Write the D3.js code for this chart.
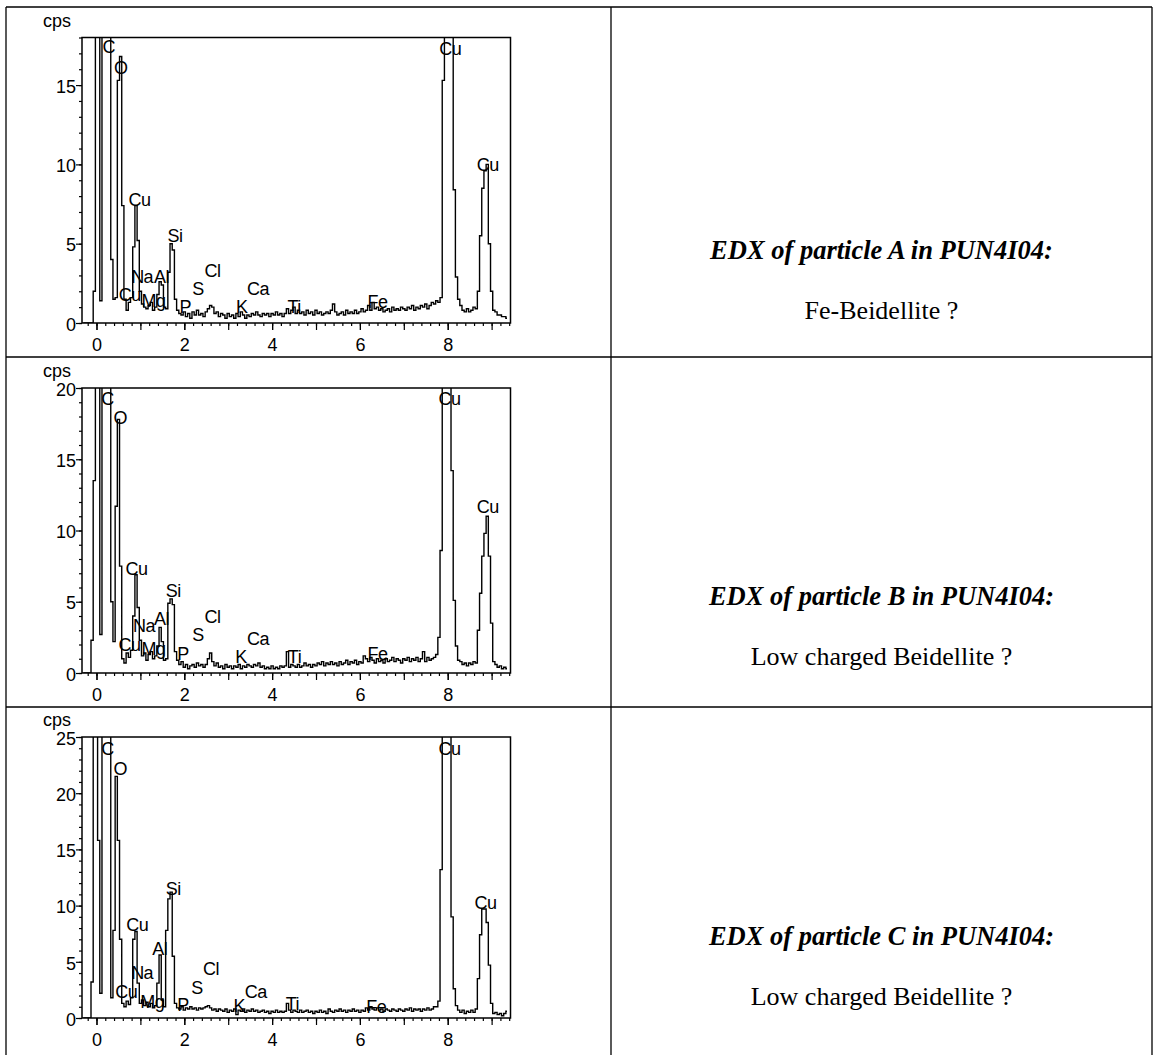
<!DOCTYPE html>
<html>
<head>
<meta charset="utf-8">
<script src="https://cdn.jsdelivr.net/npm/d3@7"></script>
<style>
  body { margin: 0; background: #fff; }
  svg text { fill: #000; }
</style>
</head>
<body>
<svg id="fig" width="1155" height="1055"></svg>
<script>
// ---- EDX spectra: counts per second in 0.05 keV channels, first channel at -0.30 keV ----
const channelStart = -0.30;
const channelWidth = 0.05;

const countsA = [
  0,0,0,0,0,2.0,
  60,60,1.4,60,60,60,60,4.0,1.5,1.6, 15.3,16.8,7.4,1.5,0.8,1.3,1.6,4.8,7.4,5.2,
  2.0,1.2,1.0,0.9,1.1,1.3,0.8,1.0,1.8,2.6, 2.4,1.0,0.9,3.2,5.0,4.6,1.5,0.8,0.6,0.5,
  0.7,0.4,0.6,0.3,0.7,0.5,0.8,0.5,0.6,0.4, 0.7,0.9,1.1,1.0,0.6,0.7,0.4,0.6,0.5,0.3,
  0.6,0.4,0.5,0.3,0.6,0.4,0.7,0.5,0.3,0.5, 0.4,0.6,0.5,0.7,0.5,0.4,0.6,0.5,0.6,0.4,
  0.6,0.5,0.7,0.5,0.6,0.4,0.6,0.9,0.6,0.8, 1.0,0.6,0.8,0.6,0.7,0.5,0.8,0.6,0.7,0.5,
  0.8,0.6,0.7,0.5,0.6,0.7,0.6,0.8,1.2,0.7, 0.5,0.6,0.7,0.5,0.8,0.6,0.7,0.6,0.8,0.6,
  0.7,0.9,0.7,0.8,1.1,0.8,1.3,0.9,1.0,0.8, 0.9,0.7,0.8,0.9,0.7,1.0,0.8,0.9,0.8,1.0,
  0.9,0.8,1.0,0.9,1.1,0.8,1.0,0.9,1.1,1.0, 1.2,0.9,1.1,1.3,1.2,1.4,1.3,1.6,15.3,60,
  60,60,60,8.4,2.9,1.5,1.1,0.8,0.7,0.9, 0.7,0.8,1.0,0.9,2.0,5.5,8.5,9.6,10.0,5.0,
  2.0,0.8,0.7,0.5,0.5,0.4,0.4,0.3
];

const countsB = [
  0,0,0,0,2.3,13.5,
  60,60,2.7,60,60,60,60,5.0,2.2,11.7, 17.8,7.5,1.0,0.7,1.4,1.1,1.6,4.0,6.9,4.6,
  2.3,1.2,1.4,0.9,1.3,1.5,1.0,1.2,1.9,3.2, 2.2,0.9,1.0,4.9,5.2,4.8,1.5,0.9,0.6,0.8,
  0.4,0.6,0.3,0.5,0.6,0.4,0.7,0.5,0.6,0.4, 0.6,1.0,1.4,0.8,0.5,0.7,0.4,0.5,0.3,0.6,
  0.4,0.5,0.3,0.5,0.4,0.6,0.3,0.5,0.4,0.6, 0.5,0.4,0.6,0.5,0.7,0.4,0.5,0.3,0.4,0.3,
  0.5,0.3,0.4,0.3,0.5,0.4,0.5,1.5,0.4,0.6, 0.5,0.4,0.6,0.4,0.5,0.7,0.5,0.6,0.4,0.6,
  0.5,0.7,0.6,0.8,0.5,0.7,0.6,0.8,0.6,0.7, 0.5,0.8,0.6,0.7,0.9,0.6,0.8,0.7,0.9,0.6,
  0.8,0.7,1.2,1.0,0.8,1.1,0.9,0.7,1.0,0.8, 0.9,0.7,1.0,0.8,0.9,1.1,0.8,1.0,0.9,0.7,
  1.0,0.9,1.1,0.8,1.0,0.9,1.1,0.8,1.0,1.5, 0.8,1.1,0.9,1.0,1.1,1.3,2.5,8.6,60,60,
  60,60,14.2,5.1,1.9,0.9,0.8,0.6,0.7,0.5, 0.7,0.6,0.8,0.7,3.0,5.6,8.2,9.8,11.0,8.2,
  3.5,0.8,0.6,0.4,0.5,0.3,0.4,0.3
];

const countsC = [
  0,0,0,0,3.2,60,
  60,15.8,2.2,60,60,60,60,1.8,7.8,21.5, 15.8,7.0,1.3,1.0,1.5,1.2,1.8,7.0,7.7,3.1,
  1.3,1.6,1.1,1.4,1.0,1.3,0.9,1.1,3.1,5.6, 1.6,1.0,7.8,10.6,11.2,5.5,1.3,0.9,0.8,1.0,
  0.7,0.9,0.8,1.0,0.8,0.9,0.7,0.9,0.8,0.9, 1.0,1.1,0.9,0.7,0.8,0.6,0.8,0.7,0.6,0.8,
  0.5,0.7,0.6,0.8,0.3,0.7,0.6,0.8,0.5,0.7, 0.6,0.8,0.6,0.7,0.5,0.6,0.7,0.5,0.6,0.4,
  0.6,0.5,0.7,0.5,0.6,0.5,0.6,1.3,0.7,0.5, 0.7,0.6,0.5,0.7,0.5,0.6,0.7,0.5,0.6,0.4,
  0.6,0.5,0.7,0.5,0.6,0.4,0.8,0.6,0.5,0.7, 0.6,0.8,0.6,0.7,0.5,0.7,0.6,0.8,0.6,0.7,
  0.5,0.7,0.6,0.9,0.7,1.0,0.8,0.7,0.9,0.7, 0.8,0.6,0.8,0.7,0.6,0.8,0.7,0.6,0.8,0.7,
  0.6,0.8,0.7,0.9,0.6,0.8,0.7,0.8,0.6,0.8, 0.7,0.9,0.7,0.8,1.0,1.0,1.5,13.2,60,60,
  60,60,9.0,2.6,1.1,0.7,0.5,0.7,0.4,0.6, 0.5,0.7,0.5,0.8,3.5,7.4,9.7,9.7,8.5,4.7,
  1.3,0.4,0.5,0.3,0.4,0.2,0.4,0.6
];

// Full-scale cps of each spectrum and its labelled ticks
const cpsMaxA = 18, cpsMaxB = 20, cpsMaxC = 25;
const yTicksA = [0, 5, 10, 15];
const yTicksB = [0, 5, 10, 15, 20];
const yTicksC = [0, 5, 10, 15, 20, 25];
const xTickLabels = [0, 2, 4, 6, 8];
const energyDomain = [-0.33, 9.43];

// Element lines: [symbol, energy keV, cps of the label baseline]
const peakLabelsA = [
  ["C",0.28,17.0],["O",0.55,15.7],["Cu",0.98,7.4],["Si",1.79,5.1],["Na",1.04,2.5],
  ["Al",1.48,2.5],["Cl",2.64,2.9],["S",2.31,1.76],["Ca",3.68,1.76],["Cu",0.76,1.39],
  ["Mg",1.30,1.0],["P",2.02,0.63],["K",3.31,0.63],["Ti",4.50,0.63],["Fe",6.40,0.95],
  ["Cu",8.06,16.9],["Cu",8.91,9.6]
];
const peakLabelsB = [
  ["C",0.25,18.8],["O",0.54,17.5],["Cu",0.91,6.9],["Si",1.75,5.3],["Na",1.08,2.9],
  ["Al",1.48,3.4],["Cl",2.64,3.5],["S",2.31,2.25],["Ca",3.68,1.96],["Cu",0.75,1.54],
  ["Mg",1.30,1.26],["P",1.97,0.91],["K",3.29,0.70],["Ti",4.51,0.70],["Fe",6.40,0.91],
  ["Cu",8.04,18.8],["Cu",8.91,11.2]
];
const peakLabelsC = [
  ["C",0.25,23.4],["O",0.54,21.6],["Si",1.75,10.9],["Cu",0.93,7.7],["Al",1.44,5.6],
  ["Na",1.04,3.5],["Cl",2.61,3.8],["S",2.29,2.1],["Ca",3.63,1.77],["Cu",0.68,1.77],
  ["Mg",1.27,0.88],["P",1.97,0.62],["K",3.25,0.53],["Ti",4.46,0.71],["Fe",6.37,0.44],
  ["Cu",8.04,23.4],["Cu",8.86,9.7]
];

const captions = [
  "EDX of particle A in PUN4I04:",
  "EDX of particle B in PUN4I04:",
  "EDX of particle C in PUN4I04:"
];
const notes = ["Fe-Beidellite ?", "Low charged Beidellite ?", "Low charged Beidellite ?"];

// ---- layout ----
const svg = d3.select("#fig");
const sans = "'Liberation Sans', Arial, sans-serif";
const serif = "'Liberation Serif', 'Times New Roman', serif";

const panels = [
  { counts: countsA, cpsMax: cpsMaxA, yTicks: yTicksA, labels: peakLabelsA, top: 37.5, bottom: 323 },
  { counts: countsB, cpsMax: cpsMaxB, yTicks: yTicksB, labels: peakLabelsB, top: 388, bottom: 673 },
  { counts: countsC, cpsMax: cpsMaxC, yTicks: yTicksC, labels: peakLabelsC, top: 737, bottom: 1018 }
];
const plotLeft = 82, plotRight = 510.5;

// table grid
const grid = svg.append("g").attr("stroke", "#000").attr("stroke-width", 1.3);
[[6, 7, 1152, 7], [6, 357, 1152, 357], [6, 707, 1152, 707],
 [6, 7, 6, 1055], [611, 7, 611, 1055], [1152, 7, 1152, 1055]].forEach(l =>
  grid.append("line").attr("x1", l[0]).attr("y1", l[1]).attr("x2", l[2]).attr("y2", l[3]));

panels.forEach((p, k) => {
  const g = svg.append("g");
  const x = d3.scaleLinear().domain(energyDomain).range([plotLeft, plotRight]);
  const y = d3.scaleLinear().domain([0, p.cpsMax]).range([p.bottom, p.top]);

  const clipId = "clip" + k;
  svg.append("clipPath").attr("id", clipId).append("rect")
    .attr("x", plotLeft).attr("y", p.top)
    .attr("width", plotRight - plotLeft).attr("height", p.bottom - p.top);

  // spectrum trace
  const pts = p.counts.map((v, i) => ({ e: channelStart + i * channelWidth, v }));
  const line = d3.line().x(d => x(d.e)).y(d => y(d.v)).curve(d3.curveStep);
  g.append("path").datum(pts)
    .attr("clip-path", `url(#${clipId})`)
    .attr("d", line)
    .attr("fill", "none").attr("stroke", "#000").attr("stroke-width", 1.4)
    .attr("stroke-linejoin", "miter");

  // minor ticks
  const yMinor = d3.axisLeft(y).tickValues(d3.range(0, p.cpsMax + 0.5, 1)).tickSize(3).tickFormat("");
  const xMinor = d3.axisBottom(x).tickValues(d3.range(-0.2, 9.41, 0.2)).tickSize(3).tickFormat("");
  const xMid = d3.axisBottom(x).tickValues(d3.range(0, 10, 1)).tickSize(7).tickFormat("");
  [ g.append("g").attr("transform", `translate(${plotLeft},0)`).call(yMinor),
    g.append("g").attr("transform", `translate(0,${p.bottom})`).call(xMinor),
    g.append("g").attr("transform", `translate(0,${p.bottom})`).call(xMid)
  ].forEach(a => { a.select(".domain").remove(); a.selectAll("line").attr("stroke", "#000").attr("stroke-width", 1.2); });

  // labelled axes
  const yAxis = g.append("g").attr("transform", `translate(${plotLeft},0)`)
    .call(d3.axisLeft(y).tickValues(p.yTicks).tickSize(6).tickPadding(0).tickFormat(d3.format("d")));
  const xAxis = g.append("g").attr("transform", `translate(0,${p.bottom})`)
    .call(d3.axisBottom(x).tickValues(xTickLabels).tickSize(7).tickPadding(8).tickFormat(d3.format("d")));
  [yAxis, xAxis].forEach(a => {
    a.select(".domain").remove();
    a.selectAll("line").attr("stroke", "#000").attr("stroke-width", 1.2);
    a.selectAll("text").attr("font-family", sans).attr("font-size", 18).attr("fill", "#000");
  });
  yAxis.selectAll("text").attr("dy", "0.4em");

  // frame
  g.append("rect").attr("x", plotLeft).attr("y", p.top)
    .attr("width", plotRight - plotLeft).attr("height", p.bottom - p.top)
    .attr("fill", "none").attr("stroke", "#000").attr("stroke-width", 1.5);

  // unit label
  g.append("text").attr("x", 43).attr("y", p.top - 11)
    .attr("font-family", sans).attr("font-size", 18).text("cps");

  // element labels
  g.selectAll("text.peak").data(p.labels).join("text")
    .attr("class", "peak")
    .attr("x", d => x(d[1])).attr("y", d => y(d[2]))
    .attr("text-anchor", "middle")
    .attr("font-family", sans).attr("font-size", 18).attr("letter-spacing", -0.5)
    .text(d => d[0]);
});

// descriptions in the right column
const captionY = [259, 605, 945];
const noteY = [319, 665, 1005];
captions.forEach((c, i) => {
  svg.append("text").attr("x", 881.5).attr("y", captionY[i]).attr("text-anchor", "middle")
    .attr("font-family", serif).attr("font-size", 26.5).attr("font-weight", "bold").attr("font-style", "italic")
    .text(c);
  svg.append("text").attr("x", 881.5).attr("y", noteY[i]).attr("text-anchor", "middle")
    .attr("font-family", serif).attr("font-size", 26)
    .text(notes[i]);
});
</script>
</body>
</html>
